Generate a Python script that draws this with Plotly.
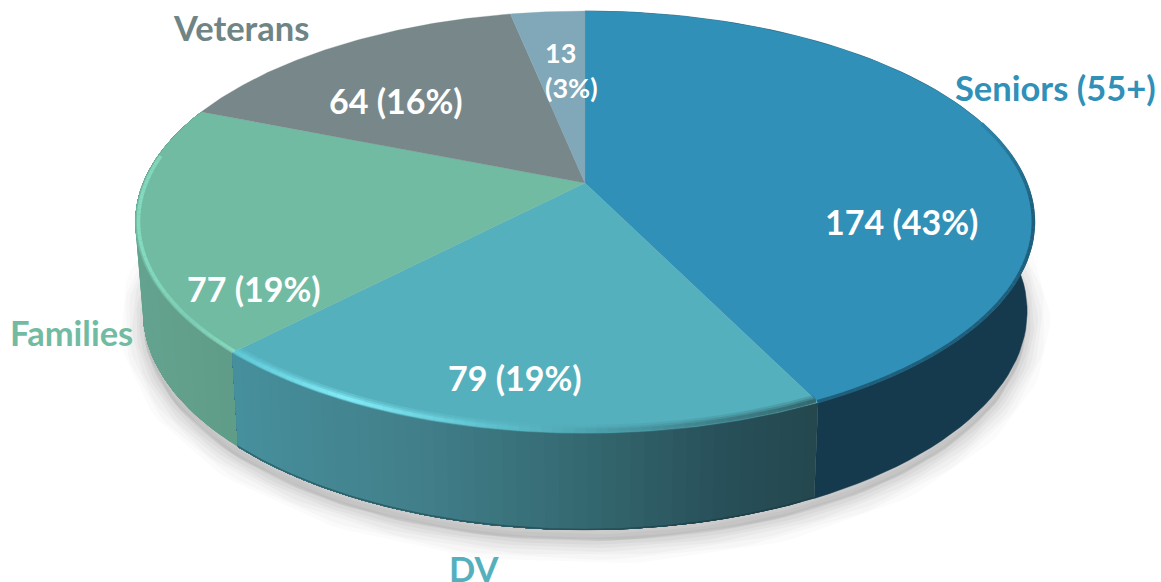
import numpy as np
import plotly.graph_objects as go

# ---- data ----
categories = ["Seniors (55+)", "DV", "Families", "Veterans", "Other"]
values = [174, 79, 77, 64, 13]
percent_labels = ["43%", "19%", "19%", "16%", "3%"]
top_colors = ["#3090B8", "#55B0BD", "#72BBA3", "#78888A", "#80A8B8"]
label_colors = ["#3090B8", "#55B0BD", "#72BBA3", "#6F8485", None]

# ---- projection of the tilted disc ----
CX, CY, R, S, K = 585.0, 183.0, 442.0, 203.8, 0.185
DROP, SHRINK_X, SHRINK_Y = 88.0, 0.983, 1.036


def project(theta_deg, t=1.0):
    th = np.radians(theta_deg)
    u, v = t * np.sin(th), t * np.cos(th)
    w = 1 + K * v
    return CX + R * u / w, CY - S * v / w


def lower(theta_deg):
    x, y = project(theta_deg)
    return CX + SHRINK_X * (x - CX), CY + DROP + SHRINK_Y * (y - CY)


def hex2rgb(h):
    return np.array([int(h[i:i + 2], 16) for i in (1, 3, 5)], float)


def ramp(pos, stops):
    xs = [s[0] for s in stops]
    cs = np.array([hex2rgb(s[1]) for s in stops])
    c = [np.interp(pos, xs, cs[:, i]) for i in range(3)]
    return "rgb(%d,%d,%d)" % tuple(int(round(a)) for a in c)


fractions = np.array(values) / sum(values)
edges = np.concatenate([[0], np.cumsum(fractions) * 360])

fig = go.Figure()


def poly(xs, ys, color, line=None, lw=0):
    fig.add_trace(go.Scatter(
        x=list(xs), y=list(ys), mode="lines", fill="toself", fillcolor=color,
        line=dict(color=line or color, width=lw), hoverinfo="skip", showlegend=False))


def stroke(xs, ys, color, lw):
    fig.add_trace(go.Scatter(
        x=list(xs), y=list(ys), mode="lines", line=dict(color=color, width=lw),
        hoverinfo="skip", showlegend=False))


# ---- soft ground shadow ----
sweep = np.linspace(0, 360, 241)
bx, by = lower(sweep)
for lw, alpha in [(46, 0.014), (38, 0.018), (30, 0.022), (22, 0.027), (14, 0.03), (7, 0.035)]:
    poly(bx, by + 11, "rgba(0,0,0,0.02)", "rgba(0,0,0,%g)" % alpha, lw)

# ---- side wall ----
side_stops = {
    1: [(237, "#468F9C"), (420, "#417F8A"), (600, "#33666E"), (720, "#28505A"), (815, "#24484E")],
    2: [(135, "#64A38F"), (240, "#5F9C88")],
}
# Seniors wall is flat
th = np.linspace(edges[0], edges[1], 80)
tx, ty = project(th)
lx, ly = lower(th)
poly(np.r_[tx, lx[::-1]], np.r_[ty, ly[::-1]], "#15394D", "#15394D", 0.5)
# graded walls, painted back to front with overlapping strips so no seams show
for i in [2, 1]:
    a, b = edges[i], edges[i + 1]
    n = int((b - a) / 1.5)
    grid = np.linspace(a, b, n + 1)
    order = range(n) if i == 1 else range(n)
    for k in order:
        t0 = grid[k]
        t1 = b
        th = np.linspace(t0, t1, max(2, n - k + 1))
        tx, ty = project(th)
        lx, ly = lower(th)
        col = ramp(project((grid[k] + grid[k + 1]) / 2)[0], side_stops[i])
        poly(np.r_[tx, lx[::-1]], np.r_[ty, ly[::-1]], col)
# thin dark foot of the DV wall
th = np.linspace(edges[1], edges[2], 80)
lx, ly = lower(th)
stroke(lx, ly - 0.6, "rgba(20,50,58,0.45)", 1.5)

# ---- top face, one wedge per value ----
for i, col in enumerate(top_colors):
    th = np.linspace(edges[i], edges[i + 1], 120)
    x, y = project(th)
    poly(np.r_[CX, x, CX], np.r_[CY, y, CY], col, col, 0.3)

# ---- bevelled rim on the front of the top face ----
rim_stops = {
    1: [(237, "#60C8D6"), (345, "#82EAF6"), (500, "#5CBECB"), (610, "#4B9CA8"), (815, "#35686E")],
    2: [(135, "#84DCC0"), (190, "#7CCDB4"), (240, "#86D9C0")],
}
a, b = edges[0], edges[1]
grid = np.linspace(72, b, 50)
for t0, t1 in zip(grid[:-1], grid[1:]):
    th = np.linspace(t0, t1, 3)
    f = np.clip(((t0 + t1) / 2 - 72) / 25, 0, 1)
    x, y = project(th, 0.997)
    stroke(x, y, ramp(f, [(0, "#2C84A8"), (1, "#1F5F7C")]), 3.5)
for width, alpha, t in [(9, 0.28, 0.988), (6, 0.45, 0.99), (3.5, 1.0, 0.992)]:
    a, b = edges[1], edges[2]
    grid = np.linspace(a, b, 60)
    for t0, t1 in zip(grid[:-1], grid[1:]):
        th = np.linspace(t0, t1, 3)
        x, y = project(th, t)
        rgb = ramp(x[1], rim_stops[1]).replace("rgb(", "rgba(").replace(")", ",%g)" % alpha)
        stroke(x, y, rgb, width)
a, b = edges[2], edges[3]
grid = np.linspace(a, b - 14, 40)
for t0, t1 in zip(grid[:-1], grid[1:]):
    th = np.linspace(t0, t1, 3)
    x, y = project(th, 0.993)
    stroke(x, y, ramp(x[1], rim_stops[2]), 3.5)

# ---- text ----
inside_pos = [(901, 221), (515, 377), (254, 288), (396, 100)]
outside_pos = [(1055, 87), (474, 568), (71, 332), (241, 27)]
annotations = []
for i in range(4):
    annotations.append(dict(
        x=inside_pos[i][0], y=inside_pos[i][1], xref="x", yref="y", showarrow=False,
        text="<b>%d (%s)</b>" % (values[i], percent_labels[i]),
        font=dict(family="Lato", size=34, color="white")))
    annotations.append(dict(
        x=outside_pos[i][0], y=outside_pos[i][1], xref="x", yref="y", showarrow=False,
        text="<b>%s</b>" % categories[i],
        font=dict(family="Lato", size=34.5, color=label_colors[i])))
annotations.append(dict(
    x=543, y=70, xref="x", yref="y", showarrow=False, xanchor="left", align="left",
    text="<b>%d<br>(%s)</b>" % (values[4], percent_labels[4]),
    font=dict(family="Lato", size=27, color="white")))

fig.update_layout(
    width=1161, height=582, autosize=False,
    margin=dict(l=0, r=0, t=0, b=0),
    paper_bgcolor="white", plot_bgcolor="white", showlegend=False,
    xaxis=dict(range=[0, 1161], visible=False, fixedrange=True),
    yaxis=dict(range=[582, 0], visible=False, fixedrange=True),
    annotations=annotations,
)
fig.write_html("out.html", post_script="document.body.style.margin='0';",
               config=dict(displayModeBar=False))
